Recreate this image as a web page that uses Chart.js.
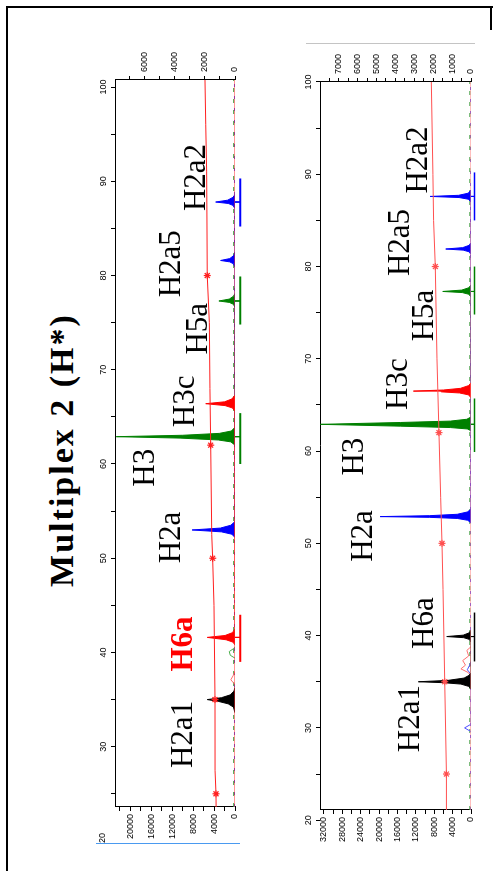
<!DOCTYPE html>
<html>
<head>
<meta charset="utf-8">
<script src="https://cdn.jsdelivr.net/npm/chart.js@4.4.1/dist/chart.umd.min.js"></script>
<style>
  html, body { margin: 0; padding: 0; background: #fff; overflow: hidden; }
  /* the figure is laid out landscape and turned a quarter to the left */
  #page { position: absolute; left: 0; top: 0; width: 871px; height: 493px;
          transform-origin: 0 0; transform: translate(0px, 871px) rotate(-90deg); }
  #page canvas { position: absolute; left: 0; }
  #c1 { top: 0; }
  #c2 { top: 280px; }
  .title { position: absolute; left: 0; top: 45px; width: 842px; text-align: center;
           font: bold 34px "Liberation Serif", serif; line-height: 34px; letter-spacing: 2px; color: #000; }
  .rule { position: absolute; }
  .stray { position: absolute; font: 9px "Liberation Sans", Arial, sans-serif; color: #000; }
</style>
</head>
<body>
<div id="page">
  <div class="title">Multiplex 2 (H*)</div>
  <canvas id="c1" width="871" height="270"></canvas>
  <canvas id="c2" width="871" height="213"></canvas>
  <div class="rule" style="left:0;top:6px;width:865px;height:2px;background:#000"></div>
  <div class="rule" style="left:863px;top:6px;width:2px;height:487px;background:#000"></div>
  <div class="rule" style="left:841px;top:490px;width:24px;height:2px;background:#000"></div>
  <div class="rule" style="left:827px;top:306px;width:1px;height:169px;background:#c4c4c4"></div>
  <div class="rule" style="left:27px;top:96px;width:1px;height:144px;background:#4a9af0"></div>
  <div class="stray" style="left:28px;top:97px">20</div>
</div>
<script>
// ---------- upper trace ----------
const p1XRange = [23.6, 100.75];
const p1YMax = 22940;       // RFU, left axis
const p1Y2Max = 7999;       // right axis
const p1XTicks  = [25, 30, 35, 40, 45, 50, 55, 60, 65, 70, 75, 80, 85, 90, 95, 100];
const p1YTicks  = [0, 2000, 4000, 6000, 8000, 10000, 12000, 14000, 16000, 18000, 20000, 22000];
const p1Y2Ticks = [0, 1000, 2000, 3000, 4000, 5000, 6000, 7000];

const p1H2a1 = [[33.6,0],[34.2,300],[34.55,1300],[34.8,3100],[35.0,5300],[35.2,2600],[35.5,900],[35.9,200],[36.3,0]];
const p1H6a  = [[40.8,0],[41.1,400],[41.35,1700],[41.6,5300],[41.8,1900],[42.1,500],[42.5,0]];
const p1H2a  = [[52.2,0],[52.55,600],[52.8,2600],[53.0,8200],[53.2,2800],[53.5,800],[53.9,0]];
const p1H3   = [[62.0,0],[62.35,800],[62.55,3200],[62.75,10500],[62.9,22700],[63.05,10000],[63.25,3000],[63.5,700],[63.9,0]];
const p1H3c  = [[65.6,0],[65.95,500],[66.2,1900],[66.4,5600],[66.6,2000],[66.9,600],[67.3,0]];
const p1H5a  = [[76.6,0],[76.95,300],[77.15,1100],[77.3,3080],[77.5,1100],[77.8,300],[78.1,0]];
const p1H2a5 = [[80.9,0],[81.25,300],[81.45,1000],[81.6,2750],[81.8,1000],[82.1,300],[82.4,0]];
const p1H2a2 = [[87.1,0],[87.45,400],[87.65,1300],[87.8,3700],[88.0,1400],[88.3,400],[88.6,0]];
const p1NoisePink  = [[36.6,0],[37.1,800],[37.6,300],[38.0,0]];
const p1NoiseGreen = [[39.4,0],[39.7,900],[40.1,1100],[40.4,300],[40.6,0]];

const p1LadderBp  = [23.6, 25, 27.5, 35, 45, 50, 52.5, 62, 68, 75, 80, 86, 91, 96, 100.75];
const p1LadderVal = [1260, 1267, 1330, 1333, 1400, 1490, 1550, 1620, 1670, 1710, 1850, 1870, 1890, 1950, 2000];
const p1Stars = [25, 35, 50, 62, 80];

const p1BinStart = [39.0, 60.0, 74.8, 85.2];
const p1BinEnd   = [44.0, 65.4, 79.9, 90.3];
const p1BinPeak  = [41.6, 62.9, 77.3, 87.8];
const p1BinColor = ['#ff0000', '#008000', '#008000', '#0000ff'];

const p1LabelNames = ['H2a1', 'H6a', 'H2a', 'H3', 'H3c', 'H5a', 'H2a5', 'H2a2'];
const p1LabelBp    = [31.3, 40.9, 52.2, 59.6, 66.65, 74.35, 81.25, 90.4];
const p1LabelRfu   = [10060, 10060, 12370, 17460, 9770, 7270, 12460, 7560];
const p1LabelColor = ['#000', '#ff0000', '#000', '#000', '#000', '#000', '#000', '#000'];
const p1LabelBold  = [false, true, false, false, false, false, false, false];

// ---------- lower trace ----------
const p2XRange = [21.1, 100];
const p2YMax = 32870;
const p2Y2Max = 7990;
const p2XTicks  = [20, 25, 30, 35, 40, 45, 50, 55, 60, 65, 70, 75, 80, 85, 90, 95, 100];
const p2YTicks  = [0, 2000, 4000, 6000, 8000, 10000, 12000, 14000, 16000, 18000, 20000, 22000,
                   24000, 26000, 28000, 30000, 32000];
const p2Y2Ticks = [0, 500, 1000, 1500, 2000, 2500, 3000, 3500, 4000, 4500, 5000, 5500, 6000, 6500, 7000, 7500];

const p2H2a1 = [[34.2,0],[34.5,500],[34.75,2200],[34.9,6000],[35.0,11460],[35.15,5000],[35.4,1500],[35.7,400],[36.0,0]];
const p2H6a  = [[39.3,0],[39.6,400],[39.78,1600],[39.9,5280],[40.05,1700],[40.3,400],[40.6,0]];
const p2H2a  = [[52.2,0],[52.5,700],[52.7,3000],[52.82,9000],[52.9,19780],[53.0,9000],[53.15,3000],[53.4,800],[53.7,0]];
const p2H3   = [[62.2,0],[62.4,800],[62.55,4500],[62.7,15400],[62.9,32800],[63.1,15400],[63.25,4500],[63.45,900],[63.7,0]];
const p2H3c  = [[65.8,0],[66.1,600],[66.3,2500],[66.42,6500],[66.5,12540],[66.62,6000],[66.8,2300],[67.1,500],[67.4,0]];
const p2H5a  = [[76.7,0],[77.0,500],[77.18,1900],[77.3,6150],[77.45,2000],[77.7,500],[78.0,0]];
const p2H2a5 = [[81.3,0],[81.6,400],[81.78,1700],[81.9,5500],[82.05,1800],[82.3,400],[82.6,0]];
const p2H2a2 = [[87.0,0],[87.3,600],[87.48,2600],[87.6,8900],[87.72,2700],[87.95,600],[88.3,0]];
const p2NoisePink = [[35.6,0],[36.0,600],[36.4,2200],[36.8,1200],[37.3,1800],[37.8,500],[38.4,900],[38.8,0]];
const p2NoiseBlue = [[29.6,0],[30.0,1400],[30.4,0],[35.8,0],[36.3,800],[36.8,300],[37.2,0]];

const p2LadderBp  = [21.1, 25, 35, 45, 50, 55, 62, 70, 80, 85, 90, 100];
const p2LadderVal = [1300, 1300, 1390, 1480, 1535, 1605, 1695, 1800, 1890, 1980, 2015, 2100];
const p2Stars = [25, 35, 50, 62, 80];

const p2BinStart = [37.2, 59.9, 74.8, 85.0];
const p2BinEnd   = [42.5, 65.7, 80.0, 90.2];
const p2BinPeak  = [39.9, 62.9, 77.3, 87.6];
const p2BinColor = ['#000000', '#008000', '#008000', '#0000ff'];

const p2LabelNames = ['H2a1', 'H6a', 'H2a', 'H3', 'H3c', 'H5a', 'H2a5', 'H2a2'];
const p2LabelBp    = [31.0, 41.35, 50.8, 59.4, 67.25, 74.7, 82.6, 91.55];
const p2LabelRfu   = [13590, 10540, 23800, 25760, 16200, 10540, 15760, 11850];
const p2LabelColor = ['#000', '#000', '#000', '#000', '#000', '#000', '#000', '#000'];
const p2LabelBold  = [false, false, false, false, false, false, false, false];

// ---------- helpers ----------
const BLACK = '#000000', RED = '#ff0000', BLUE = '#0000ff', GREEN = '#008000';
const tickFont = { family: '"Liberation Sans", Arial, sans-serif', size: 9 };

const pts = arr => arr.map(([x, y]) => ({ x, y }));

function peakSet(parts, color) {
  return { data: pts([].concat(...parts)), borderColor: color, backgroundColor: color,
           fill: 'origin', borderWidth: 1 };
}

function ladderSet(bps, vals, stars, color) {
  return {
    data: bps.map((x, i) => ({ x, y: vals[i] })), yAxisID: 'y2',
    borderColor: color, borderWidth: 1, fill: false,
    pointStyle: 'star', pointBorderColor: color, pointBorderWidth: 1.2,
    pointRadius: c => (c.raw && stars.includes(c.raw.x)) ? 3.5 : 0
  };
}

function binSets(starts, ends, peaks, colors, depth, width) {
  const out = [];
  starts.forEach((s, i) => {
    out.push({ data: [{ x: s, y: depth }, { x: ends[i], y: depth }], borderColor: colors[i],
               borderWidth: width, fill: false, clip: false });
    out.push({ data: [{ x: peaks[i], y: 100 }, { x: peaks[i], y: depth }], borderColor: colors[i],
               borderWidth: 1, fill: false, clip: false });
  });
  return out;
}

function peakLabels(names, bps, rfus, colors, bolds) {
  return {
    id: 'peakLabels',
    afterDatasetsDraw(chart) {
      const { ctx, scales: { x, y } } = chart;
      ctx.save();
      ctx.textAlign = 'center';
      ctx.textBaseline = 'alphabetic';
      names.forEach((t, i) => {
        ctx.font = (bolds[i] ? 'bold ' : '') + '31px "Liberation Serif", serif';
        ctx.fillStyle = colors[i];
        ctx.fillText(t, x.getPixelForValue(bps[i]), y.getPixelForValue(rfus[i]) + 10);
      });
      ctx.restore();
    }
  };
}

function axisOpts(tickValues, extra) {
  return Object.assign({
    type: 'linear',
    afterBuildTicks: s => { s.ticks = tickValues.map(v => ({ value: v })); },
    grid: { drawOnChartArea: false, drawTicks: true, tickLength: 4, color: '#000' },
    border: { display: true, color: '#000', width: 1 }
  }, extra);
}

function makeOptions(xr, xt, yMax, yt, y2Max, y2t, y2Label, topH, leftW, rightW, padBottom) {
  return {
    responsive: false, animation: false,
    layout: { padding: { top: 0, left: 0, right: 0, bottom: padBottom } },
    elements: { point: { radius: 0 }, line: { tension: 0 } },
    plugins: { legend: { display: false }, tooltip: { enabled: false }, title: { display: false } },
    scales: {
      x: axisOpts(xt, {
        position: 'top', min: xr[0], max: xr[1],
        afterFit: s => { s.height = topH; },
        ticks: { autoSkip: false, maxRotation: 0, minRotation: 0, padding: 2, color: '#000',
                 font: tickFont, callback: v => (v % 10 === 0 ? v : '') }
      }),
      y: axisOpts(yt, {
        position: 'left', min: 0, max: yMax,
        afterFit: s => { s.width = leftW; },
        ticks: { autoSkip: false, padding: 3, color: '#000', font: tickFont,
                 callback: v => (v % 4000 === 0 ? v : '') }
      }),
      y2: axisOpts(y2t, {
        position: 'right', min: 0, max: y2Max,
        afterFit: s => { s.width = rightW; },
        ticks: { autoSkip: false, padding: 4, color: '#000', font: tickFont,
                 callback: v => (v % y2Label === 0 ? v : '') }
      })
    }
  };
}

// ---------- upper chart ----------
new Chart(document.getElementById('c1'), {
  type: 'line',
  data: {
    datasets: [
      ladderSet(p1LadderBp, p1LadderVal, p1Stars, '#ff2020'),
      { data: pts([[p1XRange[0], 0], [p1XRange[1], 0]]), borderColor: '#ff2a2a', borderWidth: 1, fill: false },
      peakSet([p1H2a1], BLACK),
      peakSet([p1H6a, p1H3c], RED),
      peakSet([p1H2a, p1H2a5, p1H2a2], BLUE),
      peakSet([p1H3, p1H5a], GREEN),
      { data: pts(p1NoisePink), borderColor: '#ff7070', borderWidth: 1, fill: false },
      { data: pts(p1NoiseGreen), borderColor: '#4caf4c', borderWidth: 1, fill: false },
      { data: pts([[p1XRange[0], 250], [p1XRange[1], 250]]), borderColor: '#3a9a3a', borderWidth: 1,
        borderDash: [4, 7], fill: false },
      { data: pts([[p1XRange[0], 100], [p1XRange[1], 100]]), borderColor: '#4040ff', borderWidth: 1,
        borderDash: [3, 9], fill: false },
      ...binSets(p1BinStart, p1BinEnd, p1BinPeak, p1BinColor, -1000, 2)
    ]
  },
  options: makeOptions(p1XRange, p1XTicks, p1YMax, p1YTicks, p1Y2Max, p1Y2Ticks, 2000, 115, 64, 80, 35),
  plugins: [peakLabels(p1LabelNames, p1LabelBp, p1LabelRfu, p1LabelColor, p1LabelBold)]
});

// ---------- lower chart ----------
new Chart(document.getElementById('c2'), {
  type: 'line',
  data: {
    datasets: [
      ladderSet(p2LadderBp, p2LadderVal, p2Stars, '#ff5050'),
      { data: pts([[p2XRange[0], 0], [p2XRange[1], 0]]), borderColor: '#ff7a7a', borderWidth: 1, fill: false },
      peakSet([p2H2a1, p2H6a], BLACK),
      peakSet([p2H3c], RED),
      peakSet([p2H2a, p2H2a5, p2H2a2], BLUE),
      peakSet([p2H3, p2H5a], GREEN),
      { data: pts(p2NoisePink), borderColor: '#ff7070', borderWidth: 1, fill: false },
      { data: pts(p2NoiseBlue), borderColor: '#5050ff', borderWidth: 1, fill: false },
      { data: pts([[p2XRange[0], 250], [p2XRange[1], 250]]), borderColor: '#3a9a3a', borderWidth: 1,
        borderDash: [4, 7], fill: false },
      { data: pts([[p2XRange[0], 100], [p2XRange[1], 100]]), borderColor: '#4040ff', borderWidth: 1,
        borderDash: [3, 9], fill: false },
      ...binSets(p2BinStart, p2BinEnd, p2BinPeak, p2BinColor, -760, 1.5)
    ]
  },
  options: makeOptions(p2XRange, p2XTicks, p2YMax, p2YTicks, p2Y2Max, p2Y2Ticks, 1000, 40, 61, 82, 22),
  plugins: [peakLabels(p2LabelNames, p2LabelBp, p2LabelRfu, p2LabelColor, p2LabelBold)]
});
</script>
</body>
</html>
